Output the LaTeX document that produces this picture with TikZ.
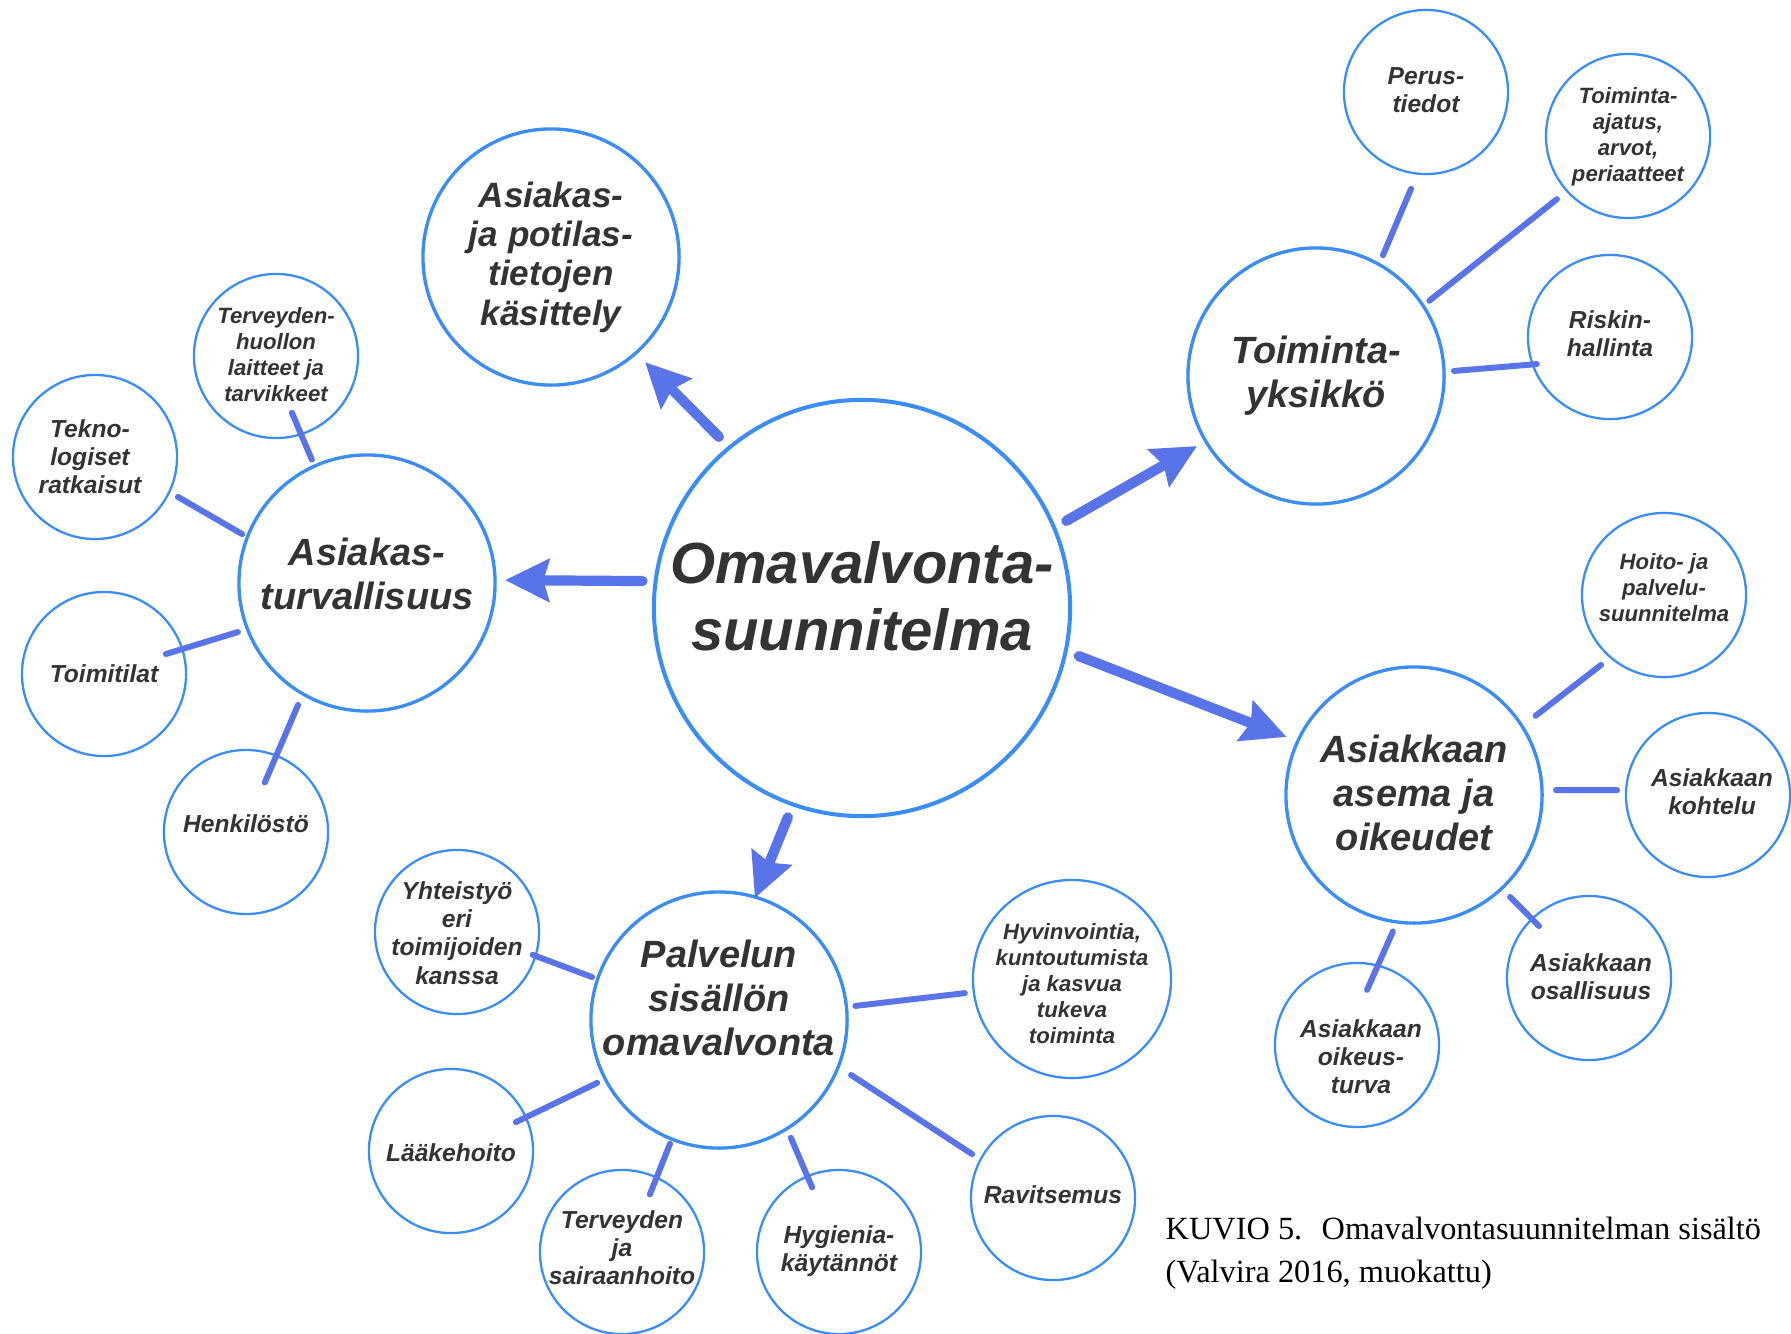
\documentclass[tikz,border=0pt]{standalone}
\usepackage{fontspec}
\newfontfamily\diagfont{Liberation Sans}
\newfontfamily\capfont{Liberation Serif}
\usetikzlibrary{calc,arrows.meta}

\definecolor{ringblue}{RGB}{58,140,246}
\definecolor{linkblue}{RGB}{88,116,232}
\definecolor{inkgray}{RGB}{51,51,51}

\tikzset{
  ring/.style={circle, draw=ringblue, inner sep=0pt},
  hubring/.style={ring, line width=1.15pt, minimum size=4.16cm},
  topicring/.style={ring, line width=0.95pt, minimum size=2.56cm},
  itemring/.style={ring, line width=0.65pt, minimum size=1.64cm},
  wideitemring/.style={ring, line width=0.65pt, minimum size=1.98cm},
  lbl/.style={align=center, text=inkgray, inner sep=0pt},
  hubtxt/.style={lbl, font=\diagfont\bfseries\itshape\fontsize{16.5}{19}\selectfont},
  topictxt/.style={lbl, font=\diagfont\bfseries\itshape\fontsize{10.8}{12.5}\selectfont},
  smalltopictxt/.style={lbl, font=\diagfont\bfseries\itshape\fontsize{10}{11.2}\selectfont},
  itemtxt/.style={lbl, font=\diagfont\bfseries\itshape\fontsize{7}{8}\selectfont},
  denseitemtxt/.style={lbl, font=\diagfont\bfseries\itshape\fontsize{6.3}{7.4}\selectfont},
  captxt/.style={align=left, text=black, inner sep=0pt, font=\capfont\fontsize{9.2}{12.2}\selectfont},
  link/.style={draw=linkblue, line width=1.7pt, line cap=round},
  branch/.style={draw=linkblue, line width=2.9pt, line cap=round,
    -{Stealth[length=12.5pt, width=12pt, inset=1.6pt]}},
}

% spoke from one circle to another: node, angle, distance (cm) at each end
\newcommand\spoke[6]{\draw[link] ($(#1)+(#2:#3cm)$) -- ($(#4)+(#5:#6cm)$);}
\newcommand\mainarrow[6]{\draw[branch] ($(#1)+(#2:#3cm)$) -- ($(#4)+(#5:#6cm)$);}

\begin{document}
\begin{tikzpicture}[x=0.01cm, y=-0.01cm]
\useasboundingbox (0,0) rectangle (1791,1333);

% central plan
\node[hubring] (hub) at (862,608) {};
\node[hubtxt] (hub-t) at (862,596) {Omavalvonta-\\suunnitelma};

% main topics
\node[topicring] (rec) at (551,257) {};
\node[smalltopictxt] (rec-t) at (551,257) {Asiakas-\\ja potilas-\\tietojen\\käsittely};

\node[topicring] (unit) at (1316,376) {};
\node[topictxt] (unit-t) at (1316,376) {Toiminta-\\yksikkö};

\node[topicring] (safe) at (367,583) {};
\node[topictxt] (safe-t) at (367,574) {Asiakas-\\turvallisuus};

\node[topicring] (pos) at (1414,795) {};
\node[topictxt] (pos-t) at (1414,793) {Asiakkaan\\asema ja\\oikeudet};

\node[topicring] (serv) at (719,1020) {};
\node[topictxt] (serv-t) at (719,998) {Palvelun\\sisällön\\omavalvonta};

% items of the operating unit
\node[itemring] (basic) at (1426,92) {};
\node[itemtxt] (basic-t) at (1426,90) {Perus-\\tiedot};
\node[itemring] (idea) at (1628,136) {};
\node[denseitemtxt] (idea-t) at (1628,137) {Toiminta-\\ajatus,\\arvot,\\periaatteet};
\node[itemring] (risk) at (1610,337) {};
\node[itemtxt] (risk-t) at (1610,334) {Riskin-\\hallinta};

% items of client safety
\node[itemring] (equip) at (276,356) {};
\node[denseitemtxt] (equip-t) at (276,355) {Terveyden-\\huollon\\laitteet ja\\tarvikkeet};
\node[itemring] (tech) at (95,457) {};
\node[itemtxt] (tech-t) at (90,457) {Tekno-\\logiset\\ratkaisut};
\node[itemring] (prem) at (104,674) {};
\node[itemtxt] (prem-t) at (104,674) {Toimitilat};
\node[itemring] (staff) at (246,832) {};
\node[itemtxt] (staff-t) at (246,824) {Henkilöstö};

% items of the client's position and rights
\node[itemring] (plan) at (1664,595) {};
\node[denseitemtxt] (plan-t) at (1664,588) {Hoito- ja\\palvelu-\\suunnitelma};
\node[itemring] (treat) at (1708,795) {};
\node[itemtxt] (treat-t) at (1712,792) {Asiakkaan\\kohtelu};
\node[itemring] (part) at (1589,978) {};
\node[itemtxt] (part-t) at (1591,977) {Asiakkaan\\osallisuus};
\node[itemring] (legal) at (1357,1045) {};
\node[itemtxt] (legal-t) at (1361,1057) {Asiakkaan\\oikeus-\\turva};

% items of service content
\node[itemring] (coop) at (457,932) {};
\node[itemtxt] (coop-t) at (457,933) {Yhteistyö\\eri\\toimijoiden\\kanssa};
\node[wideitemring] (well) at (1072,979) {};
\node[denseitemtxt] (well-t) at (1072,984) {Hyvinvointia,\\kuntoutumista\\ja kasvua\\tukeva\\toiminta};
\node[itemring] (med) at (451,1151) {};
\node[itemtxt] (med-t) at (451,1153) {Lääkehoito};
\node[itemring] (care) at (622,1252) {};
\node[itemtxt] (care-t) at (622,1248) {Terveyden\\ja\\sairaanhoito};
\node[itemring] (hyg) at (839,1252) {};
\node[itemtxt] (hyg-t) at (839,1251) {Hygienia-\\käytännöt};
\node[itemring] (food) at (1053,1198) {};
\node[itemtxt] (food-t) at (1053,1195) {Ravitsemus};

% arrows from the plan to its main topics
\mainarrow{hub}{129.9}{2.23}{rec}{-48.2}{1.41}
\mainarrow{hub}{23.1}{2.22}{unit}{-149.5}{1.38}
\mainarrow{hub}{173}{2.21}{safe}{1.2}{1.38}
\mainarrow{hub}{-12.5}{2.22}{pos}{155.5}{1.40}
\mainarrow{hub}{-109.5}{2.22}{serv}{73.6}{1.27}

% spokes to the items
\spoke{unit}{61}{1.38}{basic}{-98.8}{0.98}
\spoke{unit}{33.6}{1.36}{idea}{-138.4}{0.95}
\spoke{unit}{2.1}{1.38}{risk}{-159.7}{0.78}

\spoke{safe}{114.1}{1.35}{equip}{-74.3}{0.59}
\spoke{safe}{158.6}{1.34}{tech}{-25.7}{0.92}
\spoke{safe}{-159.2}{1.38}{prem}{17.9}{0.65}
\spoke{safe}{-119.5}{1.40}{staff}{69.2}{0.53}

\spoke{pos}{33.1}{1.45}{plan}{-132}{0.94}
\spoke{pos}{2}{1.42}{treat}{176.9}{0.91}
\spoke{pos}{-46.7}{1.40}{part}{133.9}{0.72}
\spoke{pos}{-98.8}{1.38}{legal}{79.7}{0.56}

\spoke{serv}{161.3}{1.34}{coop}{-16.8}{0.79}
\spoke{serv}{5.9}{1.37}{well}{-172.5}{1.08}
\spoke{serv}{-152.7}{1.37}{med}{24}{0.71}
\spoke{serv}{-111.6}{1.33}{care}{64.2}{0.64}
\spoke{serv}{-58.6}{1.38}{hyg}{112.6}{0.70}
\spoke{serv}{-22.6}{1.43}{food}{151.5}{0.92}

% figure caption (base anchor sits on the last line)
\node[captxt, anchor=base west] (caption) at (1165,1282)
  {KUVIO 5.\hspace{0.6em}Omavalvontasuunnitelman sisältö\\(Valvira 2016, muokattu)};
\end{tikzpicture}
\end{document}
